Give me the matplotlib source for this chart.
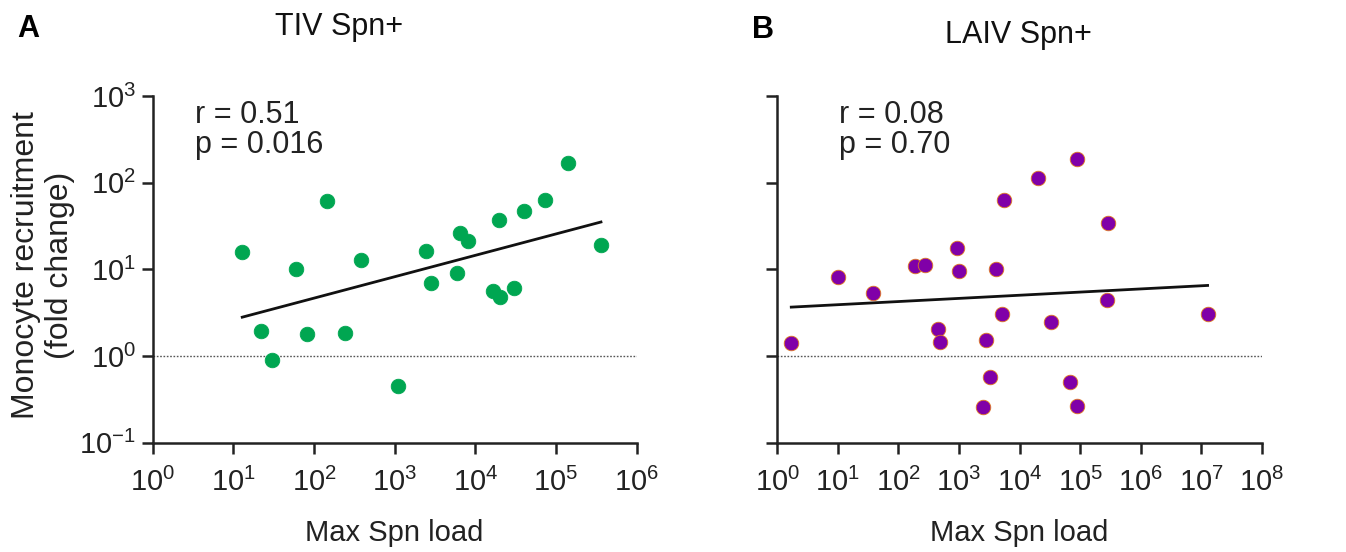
import matplotlib.pyplot as plt
import numpy as np

plt.rcParams['font.family'] = ['Liberation Sans', 'DejaVu Sans']
plt.rcParams['mathtext.fontset'] = 'custom'
plt.rcParams['mathtext.rm'] = 'Liberation Sans'
plt.rcParams['mathtext.it'] = 'Liberation Sans:italic'
plt.rcParams['mathtext.bf'] = 'Liberation Sans:bold'
plt.rcParams['axes.unicode_minus'] = False

# Panel A: TIV Spn+
tiv_load = [12.9, 21.8, 30, 60, 83, 145, 245, 386, 1100, 2450, 2850, 5990, 6460, 8030,
            16600, 20400, 19500, 30400, 39600, 73800, 141000, 361000]
tiv_mono = [16.0, 1.97, 0.91, 10.1, 1.78, 62, 1.85, 12.8, 0.457, 16.4, 7.0, 9.0, 26.6, 21.3,
            5.56, 4.78, 37.6, 6.03, 46.6, 63.5, 170, 19.0]
tiv_fit = (0.247, 0.174)  # slope, intercept in log10 space
tiv_stats = "r = 0.51\np = 0.016"

# Panel B: LAIV Spn+
laiv_load = [1.70, 10.05, 37.6, 188, 272, 451, 487, 942, 1002, 2470, 2800, 3260, 4090, 5210,
             5550, 20200, 33200, 68400, 88100, 88100, 286000, 276000, 12.7e6]
laiv_mono = [1.40, 8.2, 5.32, 11.0, 11.2, 2.07, 1.45, 17.7, 9.65, 0.259, 1.53, 0.571, 10.2, 3.09,
             62.4, 114, 2.50, 0.50, 186, 0.264, 34.4, 4.38, 3.09]
laiv_fit = (0.0364, 0.556)
laiv_stats = "r = 0.08\np = 0.70"

fig = plt.figure(figsize=(13.46, 5.52), dpi=100)
ax1 = fig.add_axes([0.1134, 0.198, 0.3596, 0.628])
ax2 = fig.add_axes([0.5775, 0.198, 0.36, 0.628])

panels = [
    (ax1, tiv_load, tiv_mono, tiv_fit, tiv_stats, "#00a651", "#00a651", (1, 1e6), 0.087),
    (ax2, laiv_load, laiv_mono, laiv_fit, laiv_stats, "#8000a8", "#e07a20", (1, 1e8), 0.127),
]

dark = '#222222'
for ax, x, y, fit, stats, color, edge, xlim, tx in panels:
    ax.set_xscale('log')
    ax.set_yscale('log')
    ax.set_xlim(*xlim)
    ax.set_ylim(0.1, 1000)
    ax.axhline(1, color='#555555', lw=1, ls=(0, (1.2, 1.2)), zorder=1)
    ax.scatter(x, y, s=110, color=color, edgecolors=edge, linewidths=0.6, zorder=3)
    # regression line over the data range
    lx = np.log10([min(x), max(x)])
    ax.plot(10 ** lx, 10 ** (fit[0] * lx + fit[1]), color='#111111', lw=2, zorder=2)
    ax.text(tx, 0.99, stats, transform=ax.transAxes,
            fontsize=22, va='top', ha='left', color=dark, linespacing=1.0)
    ax.set_xlabel("Max Spn load", fontsize=21, labelpad=16, color=dark)
    for side in ['top', 'right']:
        ax.spines[side].set_visible(False)
    for side in ['left', 'bottom']:
        ax.spines[side].set_linewidth(1.8)
        ax.spines[side].set_color(dark)
    ax.xaxis.set_major_locator(plt.LogLocator(base=10, numticks=20))
    ax.yaxis.set_major_locator(plt.LogLocator(base=10, numticks=20))
    ax.minorticks_off()
    ax.tick_params(direction='out', length=8, width=1.8, labelsize=21, color=dark, labelcolor=dark)
    ax.tick_params(axis='x', pad=10)
    ax.tick_params(axis='y', pad=4)

ax2.tick_params(axis='y', labelleft=False)

fig.text(0.252, 0.937, "TIV Spn+", fontsize=22, ha='center', va='baseline', color='#111111')
fig.text(0.757, 0.922, "LAIV Spn+", fontsize=22, ha='center', va='baseline', color='#111111')
fig.text(0.032, 0.52, "Monocyte recruitment\n(fold change)", fontsize=23, rotation=90,
         ha='center', va='center', color=dark, linespacing=1.2)

fig.text(0.013, 0.933, "A", fontsize=22, fontweight='bold', va='baseline')
fig.text(0.559, 0.931, "B", fontsize=22, fontweight='bold', va='baseline')

fig.savefig("out.png", dpi=100)
